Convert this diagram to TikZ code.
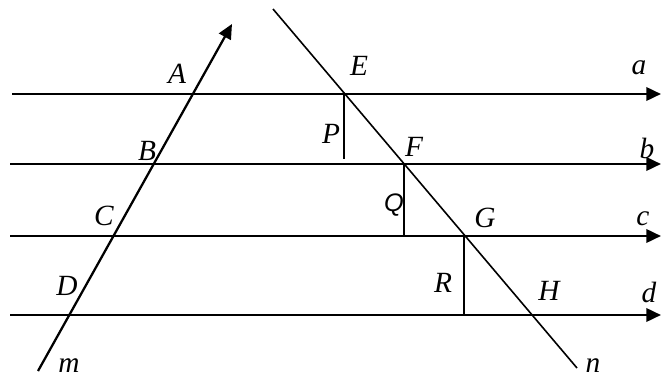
\documentclass[tikz,border=0pt]{standalone}
\usepackage{fontspec}
\setmainfont{Liberation Serif}
\newfontfamily\arialfont{Liberation Sans}
\usetikzlibrary{arrows.meta, positioning}

\begin{document}
\begin{tikzpicture}[
  x=0.75pt, y=-0.75pt,
  lbl/.style={font=\fontsize{22}{24}\selectfont\itshape, inner sep=0pt},
  par/.style={line width=1.9pt, -{Triangle[length=11pt, width=10pt]}},
  trans/.style={line width=1.2pt},
  perp/.style={line width=1.1pt}
]
  \useasboundingbox (0,0) rectangle (661,378);

  % parallel lines
  \coordinate (a0) at (12,94);  \coordinate (a1) at (661,94);
  \coordinate (b0) at (10,164); \coordinate (b1) at (661,164);
  \coordinate (c0) at (10,236); \coordinate (c1) at (661,236);
  \coordinate (d0) at (10,315); \coordinate (d1) at (661,315);
  \draw[par] (a0) -- (a1);
  \draw[par] (b0) -- (b1);
  \draw[par] (c0) -- (c1);
  \draw[par] (d0) -- (d1);

  % transversals
  \coordinate (m0) at (38,371);  \coordinate (m1) at (232,24);
  \coordinate (n0) at (273,9);   \coordinate (n1) at (577,368);
  \draw[par, line width=1.7pt] (m0) -- (m1);
  \draw[trans] (n0) -- (n1);

  % points on n
  \coordinate (E) at (344,94);
  \coordinate (F) at (404,164);
  \coordinate (G) at (464,236);
  \coordinate (H) at (531,315);
  \coordinate (Pb) at (344,159);
  \coordinate (Qb) at (404,236);
  \coordinate (Rb) at (464,315);
  \draw[perp] (E) -- (Pb);
  \draw[perp] (F) -- (Qb);
  \draw[perp] (G) -- (Rb);

  % labels
  \node[lbl] (lA) at (177,74) {A};
  \node[lbl] (lB) at (147,151) {B};
  \node[lbl] (lC) at (104,216) {C};
  \node[lbl] (lD) at (67,286) {D};
  \node[lbl] (lE) at (359,66) {E};
  \node[lbl] (lF) at (414,147) {F};
  \node[lbl] (lG) at (485,218) {G};
  \node[lbl] (lH) at (549,291) {H};
  \node[lbl] (lP) at (331,134) {P};
  \node[lbl, font=\fontsize{19}{21}\selectfont\arialfont\itshape] (lQ) at (394,205) {Q};
  \node[lbl] (lR) at (443,283) {R};
  \node[lbl] (la) at (639,68) {a};
  \node[lbl] (lb) at (647,148) {b};
  \node[lbl] (lc) at (643,219) {c};
  \node[lbl] (ld) at (649,292) {d};
  \node[lbl] (lm) at (69,366) {m};
  \node[lbl] (ln) at (593,366) {n};
\end{tikzpicture}
\end{document}
